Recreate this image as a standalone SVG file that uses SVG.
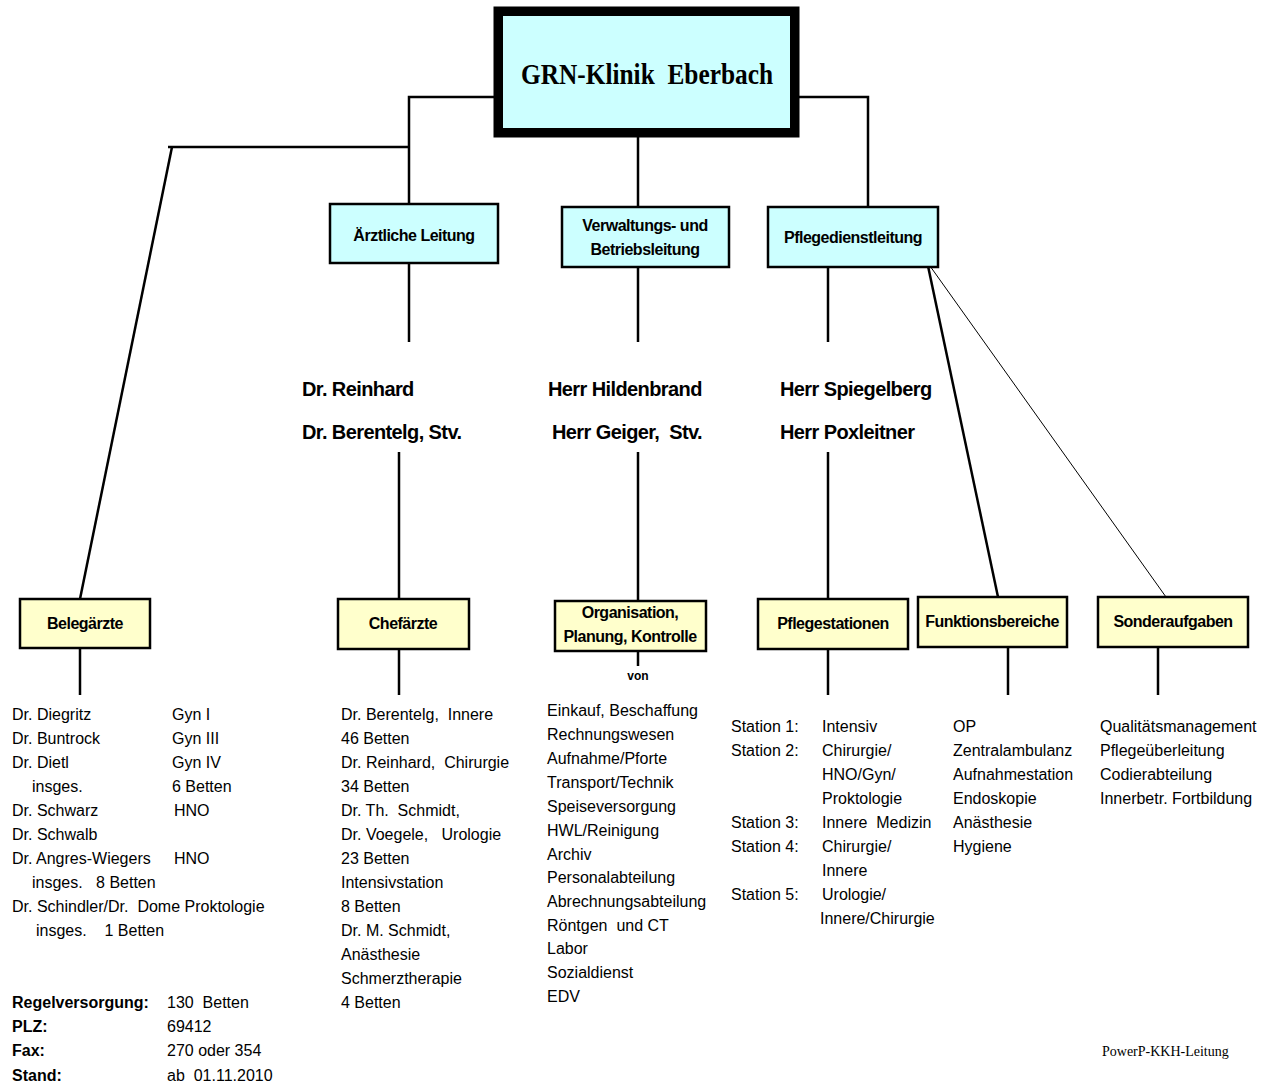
<svg xmlns="http://www.w3.org/2000/svg" width="1270" height="1083" viewBox="0 0 1270 1083">
<style>
.bx{stroke:#000;stroke-width:2.5}
.cy{fill:#CCFFFF}
.ye{fill:#FFFFCC}
.hd{font-family:"Liberation Sans",Arial,sans-serif;font-weight:bold;font-size:16px;letter-spacing:-0.5px;text-anchor:middle;fill:#000}
.nm{font-family:"Liberation Sans",Arial,sans-serif;font-weight:bold;font-size:20px;letter-spacing:-0.6px;fill:#000;white-space:pre}
.tx{font-family:"Liberation Sans",Arial,sans-serif;font-size:16px;fill:#000;white-space:pre}
.tb{font-family:"Liberation Sans",Arial,sans-serif;font-size:16px;font-weight:bold;fill:#000}
.cn{stroke:#000;stroke-width:2.5;fill:none}
</style>
<rect width="1270" height="1083" fill="#fff"/>
<g id="connectors">
<polyline class="cn" points="495,97 409,97 409,204"/>
<polyline class="cn" points="168,147 409,147"/>
<line class="cn" x1="172" y1="147" x2="80" y2="599"/>
<polyline class="cn" points="799,97 868,97 868,207"/>
<line class="cn" x1="638" y1="136" x2="638" y2="207"/>
<line class="cn" x1="409" y1="263" x2="409" y2="342"/>
<line class="cn" x1="638" y1="267" x2="638" y2="342"/>
<line class="cn" x1="828" y1="267" x2="828" y2="342"/>
<line class="cn" x1="399" y1="452" x2="399" y2="599"/>
<line class="cn" x1="638" y1="452" x2="638" y2="601"/>
<line class="cn" x1="828" y1="452" x2="828" y2="599"/>
<line class="cn" x1="928" y1="266" x2="998" y2="597"/>
<line stroke="#000" stroke-width="1" x1="930" y1="266" x2="1166" y2="597"/>
<line class="cn" x1="80" y1="648" x2="80" y2="695"/>
<line class="cn" x1="399" y1="649" x2="399" y2="695"/>
<line class="cn" x1="638" y1="651" x2="638" y2="666"/>
<line class="cn" x1="828" y1="649" x2="828" y2="695"/>
<line class="cn" x1="1008" y1="647" x2="1008" y2="695"/>
<line class="cn" x1="1158" y1="647" x2="1158" y2="695"/>
</g>
<g id="main">
<rect x="498.5" y="11.5" width="296" height="121" fill="#CCFFFF" stroke="#000" stroke-width="9"/>
<rect x="494" y="7" width="305" height="130" fill="none" stroke="#000" stroke-width="1"/>
<text x="647" y="84" font-family="Liberation Serif,Times New Roman,serif" font-weight="bold" font-size="30" text-anchor="middle" textLength="252" lengthAdjust="spacingAndGlyphs" style="white-space:pre">GRN-Klinik  Eberbach</text>
</g>
<g id="aerztliche">
<rect class="bx cy" x="330" y="204" width="168" height="59"/>
<text class="hd" x="414" y="241">Ärztliche Leitung</text>
</g>
<g id="verwaltung">
<rect class="bx cy" x="562" y="207" width="167" height="60"/>
<text class="hd" x="645" y="231">Verwaltungs- und</text>
<text class="hd" x="645" y="255">Betriebsleitung</text>
</g>
<g id="pflegedienst">
<rect class="bx cy" x="768" y="207" width="170" height="60"/>
<text class="hd" x="853" y="243">Pflegedienstleitung</text>
</g>
<g id="names">
<text class="nm" x="302" y="396">Dr. Reinhard</text>
<text class="nm" x="302" y="439">Dr. Berentelg, Stv.</text>
<text class="nm" x="548" y="396">Herr Hildenbrand</text>
<text class="nm" x="552" y="439">Herr Geiger,  Stv.</text>
<text class="nm" x="780" y="396">Herr Spiegelberg</text>
<text class="nm" x="780" y="439">Herr Poxleitner</text>
</g>
<g id="belegaerzte">
<rect class="bx ye" x="20" y="599" width="130" height="49"/>
<text class="hd" x="85" y="629">Belegärzte</text>
</g>
<g id="chefaerzte">
<rect class="bx ye" x="338" y="599" width="131" height="50"/>
<text class="hd" x="403" y="629">Chefärzte</text>
</g>
<g id="organisation">
<rect class="bx ye" x="555" y="601" width="151" height="50"/>
<text class="hd" x="630" y="618">Organisation,</text>
<text class="hd" x="630" y="642">Planung, Kontrolle</text>
</g>
<g id="pflegestationen">
<rect class="bx ye" x="758" y="599" width="150" height="50"/>
<text class="hd" x="833" y="629">Pflegestationen</text>
</g>
<g id="funktionsbereiche">
<rect class="bx ye" x="918" y="597" width="149" height="50"/>
<text class="hd" x="992" y="627">Funktionsbereiche</text>
</g>
<g id="sonderaufgaben">
<rect class="bx ye" x="1098" y="597" width="150" height="50"/>
<text class="hd" x="1173" y="627">Sonderaufgaben</text>
</g>
<g id="belegaerzte-list">
<text class="tx" x="12" y="720">Dr. Diegritz</text><text class="tx" x="172" y="720">Gyn I</text>
<text class="tx" x="12" y="744">Dr. Buntrock</text><text class="tx" x="172" y="744">Gyn III</text>
<text class="tx" x="12" y="768">Dr. Dietl</text><text class="tx" x="172" y="768">Gyn IV</text>
<text class="tx" x="32" y="792">insges.</text><text class="tx" x="172" y="792">6 Betten</text>
<text class="tx" x="12" y="816">Dr. Schwarz</text><text class="tx" x="174" y="816">HNO</text>
<text class="tx" x="12" y="840">Dr. Schwalb</text>
<text class="tx" x="12" y="864">Dr. Angres-Wiegers</text><text class="tx" x="174" y="864">HNO</text>
<text class="tx" x="32" y="888">insges.   8 Betten</text>
<text class="tx" x="12" y="912">Dr. Schindler/Dr.  Dome Proktologie</text>
<text class="tx" x="36" y="936">insges.    1 Betten</text>
</g>
<g id="chefaerzte-list">
<text class="tx" x="341" y="720">Dr. Berentelg,  Innere</text>
<text class="tx" x="341" y="744">46 Betten</text>
<text class="tx" x="341" y="768">Dr. Reinhard,  Chirurgie</text>
<text class="tx" x="341" y="792">34 Betten</text>
<text class="tx" x="341" y="816">Dr. Th.  Schmidt,</text>
<text class="tx" x="341" y="840">Dr. Voegele,   Urologie</text>
<text class="tx" x="341" y="864">23 Betten</text>
<text class="tx" x="341" y="888">Intensivstation</text>
<text class="tx" x="341" y="912">8 Betten</text>
<text class="tx" x="341" y="936">Dr. M. Schmidt,</text>
<text class="tx" x="341" y="960">Anästhesie</text>
<text class="tx" x="341" y="984">Schmerztherapie</text>
<text class="tx" x="341" y="1008">4 Betten</text>
</g>
<g id="organisation-list">
<text class="tb" x="638" y="680" font-size="12" text-anchor="middle" style="font-size:12px">von</text>
<text class="tx" x="547" y="716">Einkauf, Beschaffung</text>
<text class="tx" x="547" y="740">Rechnungswesen</text>
<text class="tx" x="547" y="764">Aufnahme/Pforte</text>
<text class="tx" x="547" y="788">Transport/Technik</text>
<text class="tx" x="547" y="812">Speiseversorgung</text>
<text class="tx" x="547" y="836">HWL/Reinigung</text>
<text class="tx" x="547" y="860">Archiv</text>
<text class="tx" x="547" y="883">Personalabteilung</text>
<text class="tx" x="547" y="907">Abrechnungsabteilung</text>
<text class="tx" x="547" y="931">Röntgen  und CT</text>
<text class="tx" x="547" y="954">Labor</text>
<text class="tx" x="547" y="978">Sozialdienst</text>
<text class="tx" x="547" y="1002">EDV</text>
</g>
<g id="pflegestationen-list">
<text class="tx" x="731" y="732">Station 1:</text><text class="tx" x="822" y="732">Intensiv</text>
<text class="tx" x="731" y="756">Station 2:</text><text class="tx" x="822" y="756">Chirurgie/</text>
<text class="tx" x="822" y="780">HNO/Gyn/</text>
<text class="tx" x="822" y="804">Proktologie</text>
<text class="tx" x="731" y="828">Station 3:</text><text class="tx" x="822" y="828">Innere  Medizin</text>
<text class="tx" x="731" y="852">Station 4:</text><text class="tx" x="822" y="852">Chirurgie/</text>
<text class="tx" x="822" y="876">Innere</text>
<text class="tx" x="731" y="900">Station 5:</text><text class="tx" x="822" y="900">Urologie/</text>
<text class="tx" x="820" y="924">Innere/Chirurgie</text>
</g>
<g id="funktionsbereiche-list">
<text class="tx" x="953" y="732">OP</text>
<text class="tx" x="953" y="756">Zentralambulanz</text>
<text class="tx" x="953" y="780">Aufnahmestation</text>
<text class="tx" x="953" y="804">Endoskopie</text>
<text class="tx" x="953" y="828">Anästhesie</text>
<text class="tx" x="953" y="852">Hygiene</text>
</g>
<g id="sonderaufgaben-list">
<text class="tx" x="1100" y="732">Qualitätsmanagement</text>
<text class="tx" x="1100" y="756">Pflegeüberleitung</text>
<text class="tx" x="1100" y="780">Codierabteilung</text>
<text class="tx" x="1100" y="804">Innerbetr. Fortbildung</text>
</g>
<g id="footer">
<text class="tb" x="12" y="1008">Regelversorgung:</text><text class="tx" x="167" y="1008">130  Betten</text>
<text class="tb" x="12" y="1032">PLZ:</text><text class="tx" x="167" y="1032">69412</text>
<text class="tb" x="12" y="1056">Fax:</text><text class="tx" x="167" y="1056">270 oder 354</text>
<text class="tb" x="12" y="1081">Stand:</text><text class="tx" x="167" y="1081">ab  01.11.2010</text>
<text x="1102" y="1056" font-family="Liberation Serif,Times New Roman,serif" font-size="14">PowerP-KKH-Leitung</text>
</g>
</svg>
